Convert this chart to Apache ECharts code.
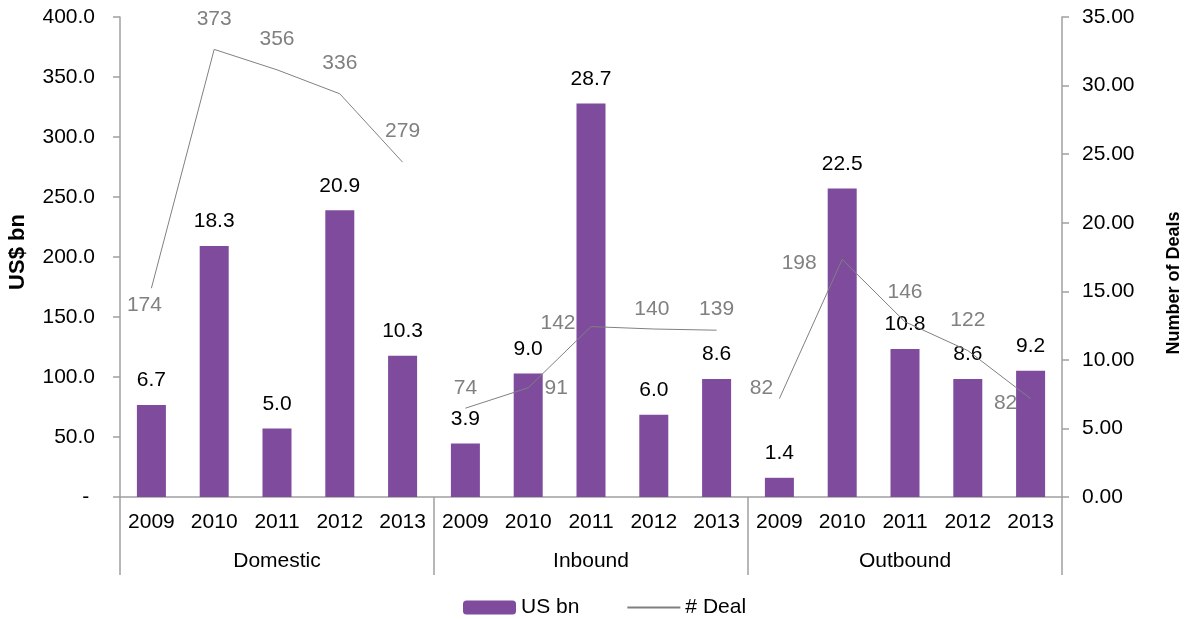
<!DOCTYPE html>
<html>
<head>
<meta charset="utf-8">
<script src="https://cdn.jsdelivr.net/npm/echarts@6/dist/echarts.min.js"></script>
<style>
html,body{margin:0;padding:0;background:#fff;}
#chart{width:1195px;height:619px;}
</style>
</head>
<body>
<div id="chart"></div>
<script>
// ---- data ----
const years = ['2009', '2010', '2011', '2012', '2013'];
const groups = ['Domestic', 'Inbound', 'Outbound'];
const usBnDomestic = [6.7, 18.3, 5.0, 20.9, 10.3];
const usBnInbound = [3.9, 9.0, 28.7, 6.0, 8.6];
const usBnOutbound = [1.4, 22.5, 10.8, 8.6, 9.2];
const dealsDomestic = [174, 373, 356, 336, 279];
const dealsInbound = [74, 91, 142, 140, 139];
const dealsOutbound = [82, 198, 146, 122, 82];

// ---- style: label offsets (px) for the deal labels ----
const dealLabelOffsets = [
  [-7, 17], [0, -30], [0, -31], [0, -31], [0, -31],
  [0, -20], [28, 0], [-33, -3], [-2, -20], [0, -21],
  [-18, -10], [-43, 4], [0, -30], [0, -30], [-25, 5]
];

const FONT = "'Liberation Sans', Arial, sans-serif";
const AXIS_COLOR = '#a0a0a0';
const FS = 21;

const categories = [].concat(years, years, years);
const usBn = [].concat(usBnDomestic, usBnInbound, usBnOutbound);
const dealGroups = [dealsDomestic, dealsInbound, dealsOutbound];

function dealSeriesData(groupIdx) {
  const arr = categories.map(() => '-');
  dealGroups[groupIdx].forEach((v, i) => {
    const idx = groupIdx * years.length + i;
    arr[idx] = { value: v, label: { offset: dealLabelOffsets[idx] } };
  });
  return arr;
}

const lineSeries = groups.map((g, gi) => ({
  name: '# Deal',
  type: 'line',
  xAxisIndex: 0,
  yAxisIndex: 0,
  data: dealSeriesData(gi),
  symbol: 'circle',
  symbolSize: 2,
  itemStyle: { color: 'transparent', borderWidth: 0 },
  lineStyle: { color: '#808080', width: 1 },
  label: {
    show: true,
    position: 'inside',
    color: '#808080',
    fontSize: FS,
    fontFamily: FONT,
    formatter: p => String(p.value)
  },
  emphasis: { disabled: true },
  z: 3
}));

const chart = echarts.init(document.getElementById('chart'));
chart.setOption({
  animation: false,
  textStyle: { fontFamily: FONT },
  grid: { left: 120, right: 133, top: 17, bottom: 122, containLabel: false, outerBoundsMode: 'none' },
  legend: {
    top: 592,
    left: 458,
    itemWidth: 53,
    itemHeight: 14,
    itemGap: 47,
    textStyle: { fontSize: FS, color: '#000', fontFamily: FONT },
    data: ['US bn', '# Deal']
  },
  xAxis: [
    {
      type: 'category',
      data: categories,
      position: 'bottom',
      axisLine: { show: true, lineStyle: { color: AXIS_COLOR, width: 1.5 } },
      axisTick: { show: false },
      axisLabel: { interval: 0, margin: 15, fontSize: FS, color: '#000', fontFamily: FONT }
    },
    {
      type: 'category',
      data: groups,
      position: 'bottom',
      axisLine: { show: false },
      axisTick: { show: true, interval: 0, length: 78, lineStyle: { color: AXIS_COLOR, width: 1.5 } },
      axisLabel: { interval: 0, margin: 54, fontSize: FS, color: '#000', fontFamily: FONT }
    }
  ],
  yAxis: [
    {
      type: 'value',
      position: 'left',
      min: 0,
      max: 400,
      interval: 50,
      name: 'US$ bn',
      nameLocation: 'middle',
      nameRotate: 90,
      nameGap: 91,
      nameTextStyle: { fontSize: 22, fontWeight: 'bold', color: '#000', fontFamily: FONT, padding: [0, 0, 0, 10] },
      axisLine: { show: true, lineStyle: { color: AXIS_COLOR, width: 1.5 } },
      axisTick: { show: true, length: 7, lineStyle: { color: AXIS_COLOR, width: 1.5 } },
      splitLine: { show: false },
      axisLabel: {
        margin: 25, fontSize: FS, color: '#000', fontFamily: FONT,
        formatter: v => (v === 0 ? '- ' : v.toFixed(1))
      }
    },
    {
      type: 'value',
      position: 'right',
      min: 0,
      max: 35,
      interval: 5,
      name: 'Number of Deals',
      nameLocation: 'middle',
      nameRotate: 90,
      nameGap: 103,
      nameTextStyle: { fontSize: 18, fontWeight: 'bold', color: '#000', fontFamily: FONT, padding: [0, 52, 0, 0] },
      axisLine: { show: true, lineStyle: { color: AXIS_COLOR, width: 1.5 } },
      axisTick: { show: true, length: 7, lineStyle: { color: AXIS_COLOR, width: 1.5 } },
      splitLine: { show: false },
      axisLabel: {
        margin: 20, fontSize: FS, color: '#000', fontFamily: FONT,
        formatter: v => v.toFixed(2)
      }
    }
  ],
  series: [
    {
      name: 'US bn',
      type: 'bar',
      xAxisIndex: 0,
      yAxisIndex: 1,
      data: usBn,
      barWidth: 29,
      itemStyle: { color: '#7f4b9c' },
      label: {
        show: true,
        position: 'top',
        distance: 14,
        fontSize: FS,
        color: '#000',
        fontFamily: FONT,
        formatter: p => Number(p.value).toFixed(1)
      },
      emphasis: { disabled: true },
      z: 2
    }
  ].concat(lineSeries)
});
</script>
</body>
</html>
